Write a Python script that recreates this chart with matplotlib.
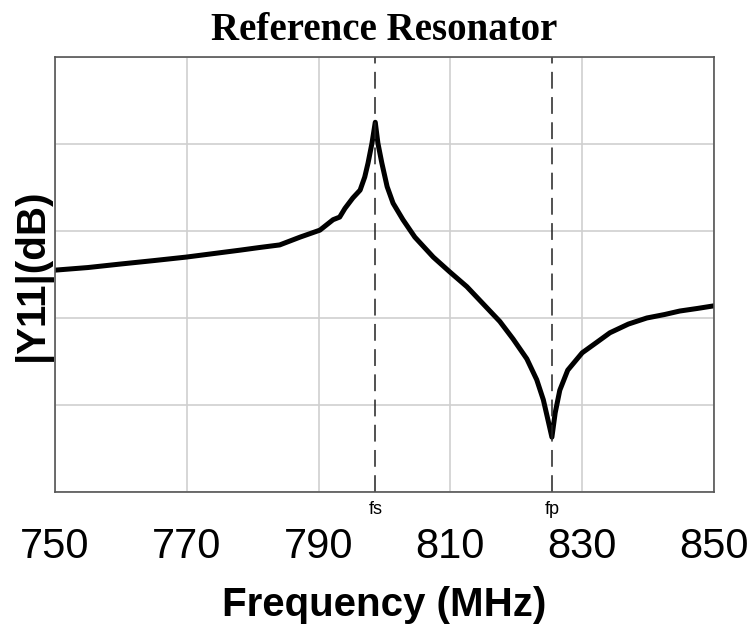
import matplotlib
matplotlib.use("Agg")
import matplotlib.pyplot as plt
import matplotlib.transforms as mtransforms

# |Y11| curve (MHz, dB; absolute level is arbitrary)
freq = [750.0, 755.0, 759.9, 765.0, 769.9, 774.0, 778.1, 781.0, 784.1, 787.2,
        790.2, 792.2, 793.2, 794.0, 795.2, 796.3, 797.0, 797.5, 798.1, 798.6,
        799.0, 799.6, 800.4, 801.3, 802.8, 804.6, 807.4, 809.9, 812.5, 816.0,
        817.5, 819.5, 821.6, 823.1, 824.1, 824.8, 825.4, 825.9, 826.6, 827.8,
        830.0, 832.2, 834.2, 837.0, 839.8, 842.5, 844.8, 847.5, 850.0]
y11_db = [-34.5, -34.2, -33.8, -33.4, -33.0, -32.6, -32.2, -31.9, -31.6, -30.7,
          -29.9, -28.7, -28.4, -27.4, -26.2, -25.3, -23.8, -22.2, -19.9, -17.5,
          -19.9, -22.2, -24.9, -26.8, -28.7, -30.7, -33.0, -34.7, -36.4, -39.2,
          -40.4, -42.4, -44.7, -47.1, -49.4, -51.7, -53.7, -50.9, -48.3, -46.0,
          -44.0, -42.8, -41.7, -40.7, -40.0, -39.6, -39.2, -38.9, -38.6]

fs = 798.6
fp = 825.4
xticks = [750, 770, 790, 810, 830, 850]

fig = plt.figure(figsize=(7.52, 6.28), dpi=100)
ax = fig.add_axes([0.0731, 0.2166, 0.8764, 0.6926])

ax.plot(freq, y11_db, color="black", linewidth=3.6,
        solid_joinstyle="round", solid_capstyle="round")
ax.axvline(fs, color="#222222", linewidth=1.1, dashes=(11, 5.5))
ax.axvline(fp, color="#222222", linewidth=1.1, dashes=(11, 5.5))

ax.set_xlim(750, 850)
ax.set_ylim(-60, -10)
ax.set_xticks(xticks)
ax.set_xticklabels([str(t) for t in xticks], family="Liberation Sans", fontsize=30)
ax.set_yticks([-60, -50, -40, -30, -20, -10])
ax.set_yticklabels([])
ax.tick_params(axis="x", length=0, pad=25)
ax.tick_params(axis="y", length=0, pad=0)
ax.grid(True, color="#cfcfcf", linewidth=1.2)
for s in ax.spines.values():
    s.set_color("#555555")
    s.set_linewidth(1.2)

trans = mtransforms.blended_transform_factory(ax.transData, ax.transAxes)
for f, lab in [(fs, "fs"), (fp, "fp")]:
    ax.text(f, -0.02, lab, transform=trans, ha="center", va="top",
            family="Liberation Sans", fontsize=13)

ax.set_title("Reference Resonator", family="Liberation Serif", fontweight="bold",
             fontsize=28, pad=12)
ax.set_xlabel("Frequency (MHz)", family="Liberation Sans", fontweight="bold",
              fontsize=29, labelpad=14)
ax.set_ylabel("|Y11|(dB)", family="Liberation Sans", fontweight="bold",
              fontsize=29, labelpad=2)

fig.savefig("out.png", dpi=100)
